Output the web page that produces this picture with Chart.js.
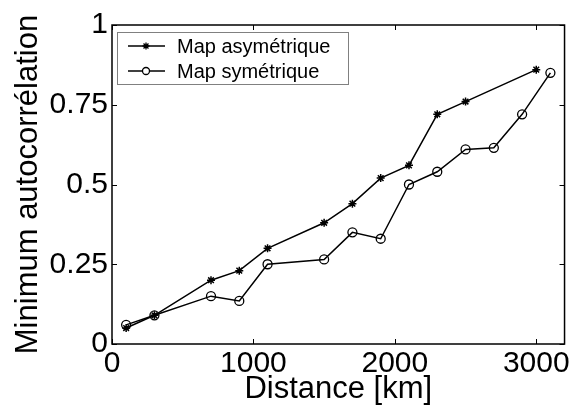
<!DOCTYPE html>
<html>
<head>
<meta charset="utf-8">
<script src="https://cdn.jsdelivr.net/npm/chart.js@4/dist/chart.umd.min.js"></script>
<style>
  html, body { margin: 0; padding: 0; background: #fff; }
  #wrap { width: 572px; height: 412px; }
</style>
</head>
<body>
<div id="wrap"><canvas id="c" width="572" height="412"></canvas></div>
<script>
// data
var asymX = [100, 300, 700, 900, 1100, 1500, 1700, 1900, 2100, 2300, 2500, 3000];
var asymY = [0.05, 0.09, 0.20, 0.23, 0.30, 0.38, 0.44, 0.52, 0.56, 0.72, 0.76, 0.86];
var symX = [100, 300, 700, 900, 1100, 1500, 1700, 1900, 2100, 2300, 2500, 2700, 2900, 3100];
var symY = [0.06, 0.09, 0.15, 0.135, 0.25, 0.265, 0.35, 0.33, 0.50, 0.54, 0.61, 0.615, 0.72, 0.85];
var xTicks = [0, 1000, 2000, 3000];
var yTicks = [0, 0.25, 0.5, 0.75, 1];
var seriesNames = ['Map asymétrique', 'Map symétrique'];

function pts(xs, ys) {
  return xs.map(function (x, i) { return { x: x, y: ys[i] }; });
}

var FONT = 'Liberation Sans, Arial, sans-serif';

// MATLAB-like frame with inward ticks
var framePlugin = {
  id: 'frame',
  afterDraw: function (chart) {
    var ctx = chart.ctx, a = chart.chartArea;
    var xs = chart.scales.x, ys = chart.scales.y;
    ctx.save();
    ctx.strokeStyle = '#000';
    ctx.lineWidth = 1.5;
    ctx.strokeRect(a.left, a.top, a.right - a.left, a.bottom - a.top);
    ctx.lineWidth = 1;
    var L = 5;
    ctx.beginPath();
    xTicks.forEach(function (v) {
      var p = Math.round(xs.getPixelForValue(v)) + 0.5;
      ctx.moveTo(p, a.bottom); ctx.lineTo(p, a.bottom - L);
      ctx.moveTo(p, a.top); ctx.lineTo(p, a.top + L);
    });
    yTicks.forEach(function (v) {
      var p = Math.round(ys.getPixelForValue(v)) + 0.5;
      ctx.moveTo(a.left, p); ctx.lineTo(a.left + L, p);
      ctx.moveTo(a.right, p); ctx.lineTo(a.right - L, p);
    });
    ctx.stroke();
    ctx.restore();
  }
};

// boxed legend inside the plot, top-left
var legendPlugin = {
  id: 'boxLegend',
  afterDraw: function (chart) {
    var ctx = chart.ctx, a = chart.chartArea;
    var bx = a.left + 5, by = a.top + 7, bw = 231, bh = 52;
    ctx.save();
    ctx.fillStyle = '#fff';
    ctx.fillRect(bx, by, bw, bh);
    ctx.strokeStyle = '#808080';
    ctx.lineWidth = 1;
    ctx.strokeRect(bx + 0.5, by + 0.5, bw, bh);
    ctx.font = '20px ' + FONT;
    ctx.textBaseline = 'middle';
    chart.data.datasets.forEach(function (ds, i) {
      var y = by + 14 + i * 25;
      ctx.strokeStyle = '#000';
      ctx.lineWidth = 1.5;
      ctx.beginPath();
      ctx.moveTo(bx + 11, y); ctx.lineTo(bx + 48, y);
      ctx.stroke();
      ctx.fillStyle = '#fff';
      ctx.lineWidth = 1.3;
      Chart.helpers.drawPoint(ctx, {
        pointStyle: ds.pointStyle, radius: ds.pointStyle === 'circle' ? 3.5 : 3.5, borderWidth: 1.3
      }, bx + 29, y);
      ctx.fillStyle = '#000';
      ctx.fillText(ds.label, bx + 60, y + 1);
    });
    ctx.restore();
  }
};

new Chart(document.getElementById('c'), {
  type: 'line',
  data: {
    datasets: [
      {
        label: seriesNames[0],
        data: pts(asymX, asymY),
        borderColor: '#000',
        backgroundColor: '#000',
        borderWidth: 1.5,
        pointStyle: 'star',
        pointRadius: 4,
        pointBorderWidth: 1.5,
        pointBorderColor: '#000',
        pointBackgroundColor: '#000',
        tension: 0
      },
      {
        label: seriesNames[1],
        data: pts(symX, symY),
        borderColor: '#000',
        backgroundColor: '#fff',
        borderWidth: 1.5,
        pointStyle: 'circle',
        pointRadius: 4.5,
        pointBorderWidth: 1.3,
        pointBorderColor: '#000',
        pointBackgroundColor: 'rgba(255,255,255,0)',
        tension: 0
      }
    ]
  },
  options: {
    responsive: false,
    animation: false,
    layout: { padding: { left: 0, right: 6, top: 25, bottom: 0 } },
    plugins: { legend: { display: false }, tooltip: { enabled: false } },
    scales: {
      x: {
        type: 'linear',
        min: 0, max: 3200,
        afterBuildTicks: function (s) { s.ticks = xTicks.map(function (v) { return { value: v }; }); },
        afterFit: function (s) { s.height = 68; },
        grid: { display: false, drawTicks: false },
        border: { display: false },
        ticks: {
          color: '#000', padding: 2, maxRotation: 0,
          font: { family: FONT, size: 30 },
          callback: function (v) { return String(v); }
        },
        title: {
          display: true, text: 'Distance [km]', color: '#000',
          font: { family: FONT, size: 31 }, padding: { top: 0, bottom: 4 }
        }
      },
      y: {
        type: 'linear',
        min: 0, max: 1,
        afterBuildTicks: function (s) { s.ticks = yTicks.map(function (v) { return { value: v }; }); },
        afterFit: function (s) { s.width = 112; },
        grid: { display: false, drawTicks: false },
        border: { display: false },
        ticks: {
          color: '#000', padding: 4,
          font: { family: FONT, size: 30 },
          callback: function (v) { return String(v); }
        },
        title: {
          display: true, text: 'Minimum autocorrélation', color: '#000',
          font: { family: FONT, size: 31 }, padding: { top: 10, bottom: 0 }
        }
      }
    }
  },
  plugins: [framePlugin, legendPlugin]
});
</script>
</body>
</html>
